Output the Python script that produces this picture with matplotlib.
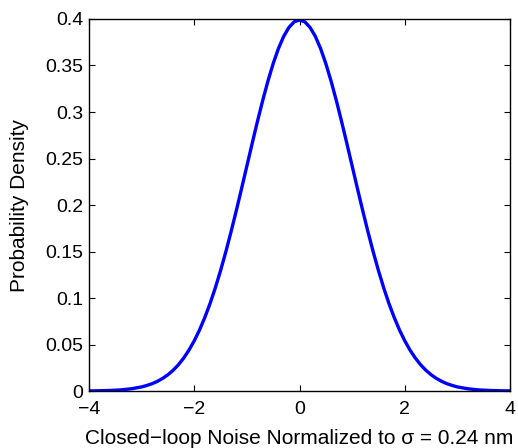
import matplotlib
matplotlib.use("Agg")
import matplotlib.pyplot as plt

plt.rcParams['font.family'] = ['Liberation Sans', 'DejaVu Sans']

x_vals = [-4.0, -3.8, -3.6, -3.4, -3.2, -3.0, -2.9, -2.8, -2.7, -2.6, -2.5, -2.4, -2.3, -2.2, -2.1,
          -2.0, -1.9, -1.8, -1.7, -1.6, -1.5, -1.4, -1.3, -1.2, -1.1, -1.0, -0.9, -0.8, -0.7, -0.6,
          -0.5, -0.4, -0.3, -0.2, -0.1, 0.0, 0.1, 0.2, 0.3, 0.4, 0.5, 0.6, 0.7, 0.8, 0.9, 1.0,
          1.1, 1.2, 1.3, 1.4, 1.5, 1.6, 1.7, 1.8, 1.9, 2.0, 2.1, 2.2, 2.3, 2.4, 2.5, 2.6, 2.7,
          2.8, 2.9, 3.0, 3.2, 3.4, 3.6, 3.8, 4.0]
density = [0.0001, 0.0003, 0.0006, 0.0012, 0.0024, 0.0044, 0.0060, 0.0079, 0.0104, 0.0136, 0.0175,
           0.0224, 0.0283, 0.0355, 0.0440, 0.0540, 0.0656, 0.0790, 0.0940, 0.1109, 0.1295, 0.1497,
           0.1714, 0.1942, 0.2179, 0.2420, 0.2661, 0.2897, 0.3123, 0.3332, 0.3521, 0.3683, 0.3814,
           0.3910, 0.3970, 0.3989, 0.3970, 0.3910, 0.3814, 0.3683, 0.3521, 0.3332, 0.3123, 0.2897,
           0.2661, 0.2420, 0.2179, 0.1942, 0.1714, 0.1497, 0.1295, 0.1109, 0.0940, 0.0790, 0.0656,
           0.0540, 0.0440, 0.0355, 0.0283, 0.0224, 0.0175, 0.0136, 0.0104, 0.0079, 0.0060, 0.0044,
           0.0024, 0.0012, 0.0006, 0.0003, 0.0001]
x_ticks = [-4, -2, 0, 2, 4]
x_tick_labels = ['\u22124', '\u22122', '0', '2', '4']
y_ticks = [0, 0.05, 0.1, 0.15, 0.2, 0.25, 0.3, 0.35, 0.4]
y_tick_labels = ['0', '0.05', '0.1', '0.15', '0.2', '0.25', '0.3', '0.35', '0.4']

fig = plt.figure(figsize=(5.18, 4.48), dpi=100)
ax = fig.add_axes([0.1718, 0.1272, 0.8128, 0.8304])
ax.plot(x_vals, density, color='#0000ff', linewidth=2.4)
ax.set_xlim(-4, 4)
ax.set_ylim(0, 0.4)
ax.set_xticks(x_ticks)
ax.set_xticklabels(x_tick_labels)
ax.set_yticks(y_ticks)
ax.set_yticklabels(y_tick_labels)
ax.tick_params(direction='in', top=True, right=True, length=4, width=0.8, labelsize=14)
ax.tick_params(axis='x', pad=7)
ax.tick_params(axis='y', pad=4)
for s in ax.spines.values():
    s.set_linewidth(1.0)
ax.set_xlabel('Closed\u2212loop Noise Normalized to \u03c3 = 0.24 nm', fontsize=15, labelpad=8)
ax.set_ylabel('Probability Density', fontsize=15, labelpad=12)
fig.savefig('out.png', dpi=100)
